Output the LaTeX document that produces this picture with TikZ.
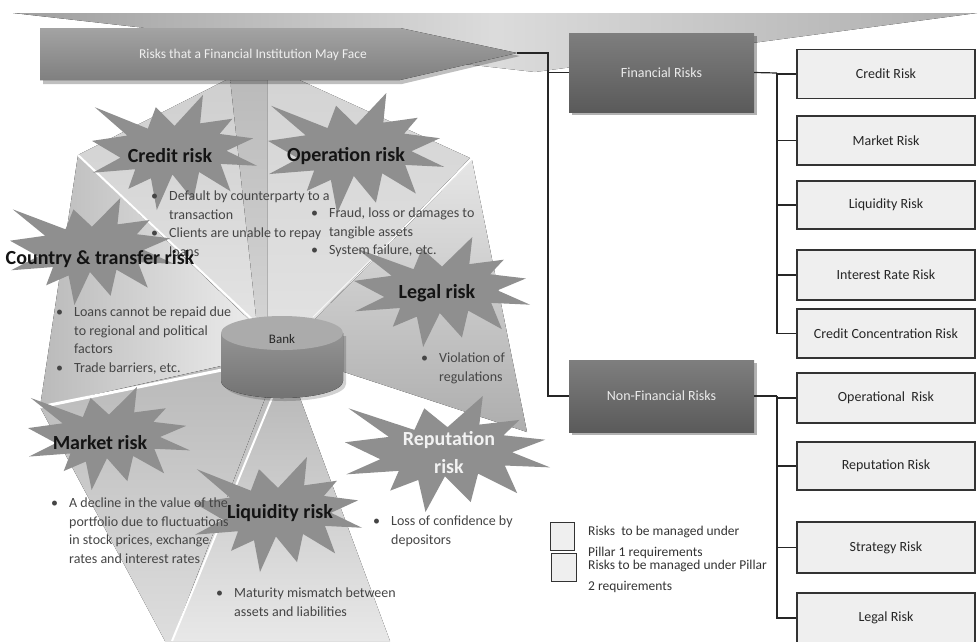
\documentclass[tikz,border=0pt]{standalone}
\usepackage{fontspec}
\setmainfont{Carlito}
\definecolor{boxgray}{HTML}{EFEFEF}
\definecolor{grpTop}{HTML}{7E7E7E}
\definecolor{grpBot}{HTML}{5A5A5A}
\definecolor{starGray}{HTML}{8F8F8F}
\definecolor{textgray}{HTML}{454545}
\newcommand{\bl}{\makebox[18pt][l]{\textbullet}}
\newcommand{\ind}{\hspace*{18pt}}
% irregular "explosion" outline fitted into the box (x0,y0) w x h
\newcommand{\burst}[4]{%
  \begin{scope}[shift={(#1,#2)},xscale={#3/100},yscale={#4/100}]
    \fill[starGray] (50,26.85) -- (67.23,0) -- (65.53,24.65) -- (85.09,20.63)
      -- (77.32,33.87) -- (97.67,37.67) -- (81.51,48.50) -- (100,61.53)
      -- (77.95,59.92) -- (84.00,83.77) -- (64.91,66.93) -- (61.33,91.38)
      -- (48.76,69.14) -- (39.28,100) -- (35.72,72.35) -- (22.05,81.56)
      -- (26.24,64.52) -- (0.63,67.53) -- (17.23,54.51) -- (0,39.88)
      -- (21.42,35.26) -- (1.71,10.63) -- (33.85,29.26) -- (38.67,10.63) -- cycle;
  \end{scope}}
\begin{document}
\begin{tikzpicture}[x=1pt,y=-1pt,
  conn/.style={draw=black!85, line width=1.2pt},
  riskbox/.style={draw=black!80, line width=1.1pt, fill=boxgray, minimum width=178pt,
    inner sep=0pt, font=\fontsize{14}{16}\selectfont, text=black!85},
  groupbox/.style={minimum width=185pt, inner sep=0pt, top color=grpTop, bottom color=grpBot,
    text=white!92!black, font=\fontsize{14}{16}\selectfont},
  startitle/.style={font=\fontsize{20}{28}\selectfont\bfseries, text=black!92, align=center, inner sep=0pt},
  bullets/.style={font=\fontsize{14}{18.5}\selectfont, text=textgray, align=left,
    anchor=north west, inner sep=0pt},
  keybox/.style={draw=black!80, line width=1pt, fill=boxgray, inner sep=0pt},
  keytext/.style={font=\fontsize{13.5}{20.5}\selectfont, text=black!80, align=left,
    anchor=north west, inner sep=0pt},
  sep/.style={draw=white, line width=2pt},
]
\useasboundingbox (0,0) rectangle (979,641);

% light banner wedge behind the title arrow
\fill[left color=black!38, right color=black!32, middle color=black!14] (13,13) -- (977,13) -- (535,72) -- cycle;

% fan of sectors around the bank
\coordinate (C) at (283,352);
\fill[left color=black!27, right color=black!5] (C) -- (78,155) -- (40,407) -- cycle;
\fill[top color=black!28, bottom color=black!13] (C) -- (40,407) -- (165,641) -- (172,641) -- cycle;
\fill[top color=black!30, bottom color=black!9] (C) -- (172,641) -- (390,641) -- cycle;
\fill[top color=black!10, bottom color=black!32] (C) -- (472,160) -- (527,432) -- cycle;
\fill[top color=black!17, bottom color=black!11] (267,78) -- (295,78) -- (470,158) -- (C) -- (267,352) -- cycle;
\fill[top color=black!19, bottom color=black!10] (78,155) -- (230,78) -- (267,78) -- (267,352) -- (C) -- cycle;
\fill[top color=black!27, bottom color=black!17] (230,78) -- (267,78) -- (267,325) -- (257,325) -- cycle;
\draw[sep] (78,155) -- (258,325);
\draw[sep, line width=3pt] (40,407) -- (222,370);
\draw[sep] (172,641) -- (272,398);
\draw[draw=white, opacity=0.7, line width=1pt] (472,160) -- (313,317);

% title arrow
\fill[black, opacity=0.25] (43,32) -- (402,32) -- (520,56) -- (402,84) -- (43,84) -- cycle;
\fill[top color=black!36, bottom color=black!50] (40,28) -- (400,28) -- (517,53) -- (400,80) -- (40,80) -- cycle;
\node[font=\fontsize{13.5}{15}\selectfont, text=white!94!black] (title) at (253,55) {Risks that a Financial Institution May Face};
\coordinate (tip) at (517,53);

% bank cylinder
\fill[black, opacity=0.18] (224,336) -- (224,384) arc[start angle=180, end angle=0, x radius=61, y radius=17] -- (346,336) -- cycle;
\fill[top color=black!42, bottom color=black!55] (221,333) -- (221,381) arc[start angle=180, end angle=0, x radius=61, y radius=17] -- (343,333) -- cycle;
\fill[black!33] (282,333) ellipse[x radius=61, y radius=17];
\node[font=\fontsize{13}{15}\selectfont, text=black!85] (bank) at (282,339) {Bank};

% risk bursts
\burst{92}{95}{165}{115}
\burst{268}{93}{176}{120}
\burst{354}{237}{176}{110}
\burst{10}{198}{164}{107}
\burst{28}{387}{162}{103}
\burst{345}{396}{205}{116}
\burst{194}{457}{168}{115}

% burst titles
\node[startitle] (credit) at (170,156) {Credit risk};
\node[startitle] (operation) at (346,156) {Operation risk};
\node[startitle] (legal) at (437,293) {Legal risk};
\node[startitle] (market) at (100,443) {Market risk};
\node[startitle, text=white!95!black] (reputation) at (449,453) {Reputation\\risk};

% bullet texts
\node[bullets] (credittxt) at (151,191) {\bl Default by counterparty to a\\\ind transaction\\\bl Clients are unable to repay\\\ind loans};
\node[startitle] (country) at (100,259) {Country \& transfer risk};
\node[bullets] (operationtxt) at (311,208) {\bl Fraud, loss or damages to\\\ind tangible assets\\\bl System failure, etc.};
\node[bullets] (countrytxt) at (56,307) {\bl Loans cannot be repaid due\\\ind to regional and political\\\ind factors\\\bl Trade barriers, etc.};
\node[bullets] (legaltxt) at (421,353) {\bl Violation of\\\ind regulations};
\node[startitle] (liquidity) at (280,513) {Liquidity risk};
\node[bullets] (markettxt) at (51,498) {\bl A decline in the value of the\\\ind portfolio due to fluctuations\\\ind in stock prices, exchange\\\ind rates and interest rates};
\node[bullets] (liquiditytxt) at (216,588) {\bl Maturity mismatch between\\\ind assets and liabilities};
\node[bullets] (reputationtxt) at (373,516) {\bl Loss of confidence by\\\ind depositors};

% risk categories
\fill[black, opacity=0.3] (572,36) rectangle (757,115);
\node[groupbox, minimum height=79pt] (fin) at (661.5,72.5) {Financial Risks};
\fill[black, opacity=0.3] (572,363) rectangle (757,435);
\node[groupbox, minimum height=72pt] (nonfin) at (661.5,396) {Non-Financial Risks};

\node[riskbox, minimum height=49pt] (cr) at (886,74) {Credit Risk};
\node[riskbox, minimum height=49pt] (mr) at (886,140.5) {Market Risk};
\node[riskbox, minimum height=48pt] (lr) at (886,205) {Liquidity Risk};
\node[riskbox, minimum height=50pt] (ir) at (886,275) {Interest Rate Risk};
\node[riskbox, minimum height=49pt] (ccr) at (886,333.5) {Credit Concentration Risk};
\node[riskbox, minimum height=50pt] (opr) at (886,398) {Operational\ \ Risk};
\node[riskbox, minimum height=48pt] (rr) at (886,466) {Reputation Risk};
\node[riskbox, minimum height=51pt] (sr) at (886,547.5) {Strategy Risk};
\node[riskbox, minimum height=50pt] (lgr) at (886,618) {Legal Risk};

% connectors
\coordinate (bus) at (548,53);
\draw[conn] (tip) -- (bus) |- (nonfin.west);
\draw[conn] (bus) |- (fin.west);
\coordinate (fbus) at (777,73);
\draw[conn] (fin.east) -- (fbus);
\foreach \n in {cr,mr,lr,ir,ccr} \draw[conn] (fbus) |- (\n.west);
\coordinate (nbus) at (777,396);
\draw[conn] (nonfin.east) -- (nbus);
\foreach \n in {opr,rr,sr,lgr} \draw[conn] (nbus) |- (\n.west);

% key
\node[keybox, minimum width=24pt, minimum height=28pt] (key1) at (562,536) {};
\node[keybox, minimum width=25pt, minimum height=28pt] (key2) at (563.5,567) {};
\node[keytext] (key1txt) at (588,526) {Risks\ \ to be managed under\\Pillar 1 requirements};
\node[keytext] (key2txt) at (588,560) {Risks to be managed under Pillar\\2 requirements};
\end{tikzpicture}
\end{document}
